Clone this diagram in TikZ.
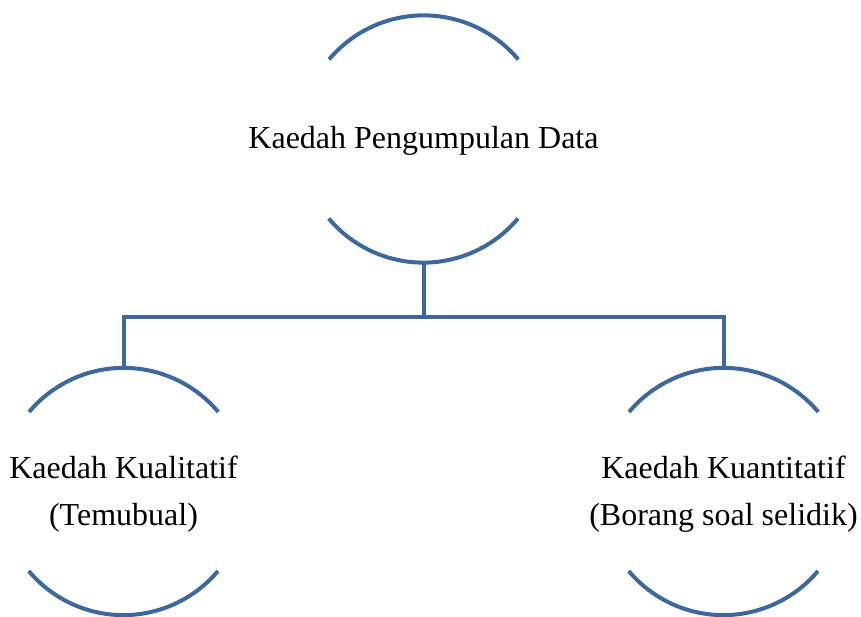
\documentclass[tikz,border=0pt]{standalone}
\usepackage{fontspec}
\setmainfont{Liberation Serif}
\definecolor{arcblue}{HTML}{3E689D}
\begin{document}
\begin{tikzpicture}[x=1pt,y=1pt,
  ring/.style={circle,draw=none,minimum size=247pt,inner sep=0pt},
  label/.style={align=center,text=black,font=\fontsize{32}{47}\selectfont,inner sep=0pt},
  arcline/.style={draw=arcblue,line width=4pt},
  conn/.style={draw=arcblue,line width=4pt}]
\useasboundingbox (0,0) rectangle (861,617);
% rings
\node[ring] (topc) at (423.5,478) {};
\node[ring] (leftc) at (123.5,125.5) {};
\node[ring] (rightc) at (723.5,125.5) {};
% texts
\node[label] (toptext) at ([yshift=-2pt]topc.center) {Kaedah Pengumpulan Data};
\node[label] (lefttext) at ([yshift=-3pt]leftc.center) {Kaedah Kualitatif\\(Temubual)};
\node[label] (righttext) at ([yshift=-3pt]rightc.center) {Kaedah Kuantitatif\\(Borang soal selidik)};
% arcs
\foreach \n in {topc,leftc,rightc}{
  \draw[arcline] (\n.40) arc[start angle=40,end angle=140,radius=123.5pt];
  \draw[arcline] (\n.220) arc[start angle=220,end angle=320,radius=123.5pt];
}
% connectors
\coordinate (bus) at (423.5,300);
\draw[conn] (topc.south) -- (bus);
\draw[conn] (bus) -| (leftc.north);
\draw[conn] (bus) -| (rightc.north);
\end{tikzpicture}
\end{document}
